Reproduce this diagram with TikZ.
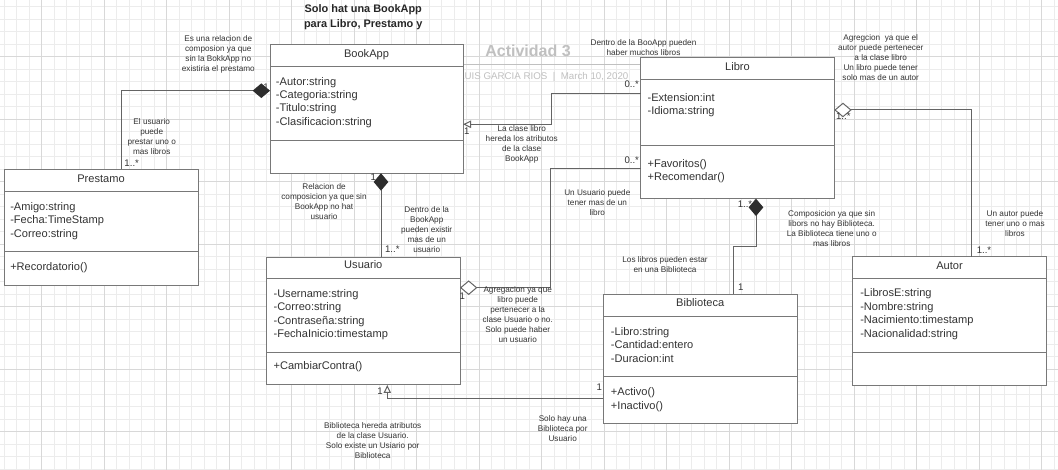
\documentclass[tikz,border=0pt]{standalone}
\usepackage{fontspec}
\setmainfont{Liberation Sans}
\usetikzlibrary{arrows.meta}
\definecolor{gridminor}{RGB}{236,236,236}
\definecolor{gridmajor}{RGB}{216,216,216}
\definecolor{boxline}{RGB}{120,120,120}
\definecolor{txt}{RGB}{51,51,51}
\definecolor{connc}{RGB}{100,100,100}
\definecolor{dfill}{RGB}{45,45,45}
\definecolor{faint}{RGB}{192,192,192}
\newcommand\umlclass[7]{%
  \node[classbox, minimum width={(#4-#2)*0.75pt}, minimum height={(#5-#3)*0.75pt}] (#1) at (#2,#3) {};
  \draw[divider] (#1.west |- 0,#6) -- (#1.east |- 0,#6);
  \draw[divider] (#1.west |- 0,#7) -- (#1.east |- 0,#7);
}
\begin{document}
\begin{tikzpicture}[x=0.75pt,y=-0.75pt,
  classbox/.style={draw=boxline, fill=white, line width=0.75pt, inner sep=0pt, outer sep=0pt, anchor=north west},
  divider/.style={draw=boxline, line width=0.75pt},
  ctitle/.style={font=\fontsize{8.3pt}{10pt}\selectfont, text=txt, anchor=base, inner sep=0pt},
  member/.style={font=\fontsize{8.3pt}{10pt}\selectfont, text=txt, anchor=base west, inner sep=0pt},
  note/.style={font=\fontsize{6.15pt}{7.5pt}\selectfont, text=txt, align=center, anchor=north, inner sep=0pt},
  mult/.style={font=\fontsize{7.2pt}{8pt}\selectfont, text=txt, inner sep=0pt},
  conn/.style={draw=connc, line width=0.75pt},
  composition/.style={conn, {Diamond[length=13pt,width=11pt,fill=dfill,color=dfill]}-},
  aggregation/.style={conn, {Diamond[length=13pt,width=11pt,fill=white]}-},
  inherit/.style={conn, -{Triangle[length=6pt,width=5.5pt,fill=white]}},
]
\useasboundingbox (0,0) rectangle (1058,470);
\fill[white] (0,0) rectangle (1058,470);
% grid
\foreach \i in {0,...,84} \draw[gridminor, line width=0.6pt] ({4.2+12.5*\i},0) -- ({4.2+12.5*\i},470);
\foreach \i in {0,...,37} \draw[gridminor, line width=0.6pt] (0,{6.7+12.5*\i}) -- (1058,{6.7+12.5*\i});
\foreach \i in {0,...,16} \draw[gridmajor, line width=0.6pt] ({41.7+62.5*\i},0) -- ({41.7+62.5*\i},470);
\foreach \i in {0,...,6} \draw[gridmajor, line width=0.6pt] (0,{56.7+62.5*\i}) -- (1058,{56.7+62.5*\i});

% title block
\node[font=\fontsize{8.2pt}{10.9pt}\selectfont\bfseries, text=black!85, align=center, anchor=north, inner sep=0pt] (heading) at (363.3,4.3) {Solo hat una BookApp\\para Libro, Prestamo y};
\node[font=\fontsize{12pt}{14pt}\selectfont\bfseries, text=faint, inner sep=0pt] (actividad) at (528,50.7) {Actividad 3};
\coordinate (hb-l) at (440,65);
\coordinate (hb-r) at (660,65);
\draw[faint, line width=0.75pt] (hb-l) -- (hb-r);
\node[font=\fontsize{7.3pt}{9pt}\selectfont, text=faint, anchor=base west, inner sep=0pt] (author) at (459,79.7) {LUIS GARCIA RIOS \ | \ March 10, 2020};

% classes
\umlclass{bookapp}{270}{44.7}{463}{173.3}{66.7}{140.3}
\umlclass{prestamo}{4}{169.3}{198}{285.3}{191.7}{251.3}
\umlclass{usuario}{266.7}{257.3}{460}{385}{279}{352.7}
\umlclass{libro}{640.7}{57.3}{834.3}{198.7}{79.3}{146}
\umlclass{biblioteca}{603.3}{294.3}{797}{423.3}{316.3}{376.7}
\umlclass{autor}{852.3}{256.7}{1046.7}{385.3}{279}{352.7}

\node[ctitle] (bookapp-t) at (366.5,58) {BookApp};
\foreach \t [count=\i] in {-Autor:string,-Categoria:string,-Titulo:string,-Clasificacion:string}
  \node[member] (bookapp-a\i) at (275.7,{85.2+(\i-1)*13.4}) {\t};

\node[ctitle] (prestamo-t) at (101,182.3) {Prestamo};
\foreach \t [count=\i] in {-Amigo:string,-Fecha:TimeStamp,-Correo:string}
  \node[member] (prestamo-a\i) at (10,{210.3+(\i-1)*13.4}) {\t};
\node[member] (prestamo-m1) at (10,270.3) {+Recordatorio()};

\node[ctitle] (usuario-t) at (363.3,269) {Usuario};
\foreach \t [count=\i] in {-Username:string,-Correo:string,-Contraseña:string,-FechaInicio:timestamp}
  \node[member] (usuario-a\i) at (273.3,{297.3+(\i-1)*13.4}) {\t};
\node[member] (usuario-m1) at (273.3,370) {+CambiarContra()};

\node[ctitle] (libro-t) at (737.5,70.3) {Libro};
\foreach \t [count=\i] in {-Extension:int,-Idioma:string}
  \node[member] (libro-a\i) at (647.3,{101.3+(\i-1)*13.4}) {\t};
\foreach \t [count=\i] in {+Favoritos(),+Recomendar()}
  \node[member] (libro-m\i) at (647.3,{167.3+(\i-1)*13.4}) {\t};

\node[ctitle] (biblioteca-t) at (700.2,307) {Biblioteca};
\foreach \t [count=\i] in {-Libro:string,-Cantidad:entero,-Duracion:int}
  \node[member] (biblioteca-a\i) at (610.7,{335.3+(\i-1)*13.4}) {\t};
\foreach \t [count=\i] in {+Activo(),+Inactivo()}
  \node[member] (biblioteca-m\i) at (610.7,{395.7+(\i-1)*13.4}) {\t};

\node[ctitle] (autor-t) at (949.5,269.7) {Autor};
\foreach \t [count=\i] in {-LibrosE:string,-Nombre:string,-Nacimiento:timestamp,-Nacionalidad:string}
  \node[member] (autor-a\i) at (860,{297+(\i-1)*13.4}) {\t};

% connectors
\draw[composition] (bookapp.west |- 0,90.7) -| (prestamo.north -| 121,0);
\draw[inherit] (libro.west |- 0,93.3) -| (551.7,124.3) -- (bookapp.east |- 0,124.3);
\draw[aggregation] (usuario.east |- 0,287.7) -| (550.7,168.3) -- (libro.west |- 0,168.3);
\draw[composition] (bookapp.south -| 381,0) -- (usuario.north -| 381,0);
\draw[composition] (libro.south -| 756,0) -- (756,246.7) -| (biblioteca.north -| 733.3,0);
\draw[aggregation] (libro.east |- 0,110) -| (autor.north -| 971.7,0);
\draw[inherit] (biblioteca.west |- 0,398.3) -| (usuario.south -| 387.3,0);

% notes
\node[note] (n1) at (218.3,34.8) {Es una relacion de\\composion ya que\\sin la BokkApp no\\existiria el prestamo};
\node[note] (n2) at (151.7,118.2) {El usuario\\puede\\prestar uno o\\mas libros};
\node[note] (n3) at (521.7,124.8) {La clase libro\\hereda los atributos\\de la clase\\BookApp};
\node[note] (n4) at (643.5,38.8) {Dentro de la BooApp pueden\\haber muchos libros};
\node[note] (n5) at (597.3,188.8) {Un Usuario puede\\tener mas de un\\libro};
\node[note] (n6) at (517.7,286.5) {Agregacion ya que\\libro puede\\pertenecer a la\\clase Usuario o no.\\Solo puede haber\\un usuario};
\node[note] (n7) at (324,183.2) {Relacion de\\composicion ya que sin\\BookApp no hat\\usuario};
\node[note] (n8) at (426.7,205.8) {Dentro de la\\BookApp\\pueden existir\\mas de un\\usuario};
\node[note] (n9) at (831.7,209.8) {Composicion ya que sin\\libors no hay Biblioteca.\\La Biblioteca tiene uno o\\mas libros};
\node[note] (n10) at (665,256.5) {Los libros pueden estar\\en una Biblioteca};
\node[note] (n11) at (880.7,33.8) {Agregcion \ ya que el\\autor puede pertenecer\\a la clase libro\\Un libro puede tener\\solo mas de un autor};
\node[note] (n12) at (1015,210.5) {Un autor puede\\tener uno o mas\\libros};
\node[note] (n13) at (372.7,422.5) {Biblioteca hereda atributos\\de la clase Usuario.\\Solo existe un Usiario por\\Biblioteca};
\node[note] (n14) at (562.7,415.5) {Solo hay una\\Biblioteca por\\Usuario};

% multiplicities
\node[mult] (m1) at (266,87.5) {1};
\node[mult] (m2) at (131.7,163.3) {1..*};
\node[mult] (m3) at (466.7,131.7) {1};
\node[mult] (m4) at (631.7,84) {0..*};
\node[mult] (m5) at (631.7,160) {0..*};
\node[mult] (m6) at (462.3,295.7) {1};
\node[mult] (m7) at (373.3,177.3) {1};
\node[mult] (m8) at (392.3,249.3) {1..*};
\node[mult] (m9) at (745,204) {1..*};
\node[mult] (m10) at (740.7,287.3) {1};
\node[mult] (m11) at (843.3,116.7) {1..*};
\node[mult] (m12) at (984,250) {1..*};
\node[mult] (m13) at (380,390.7) {1};
\node[mult] (m14) at (599.3,386.7) {1};
\end{tikzpicture}
\end{document}
